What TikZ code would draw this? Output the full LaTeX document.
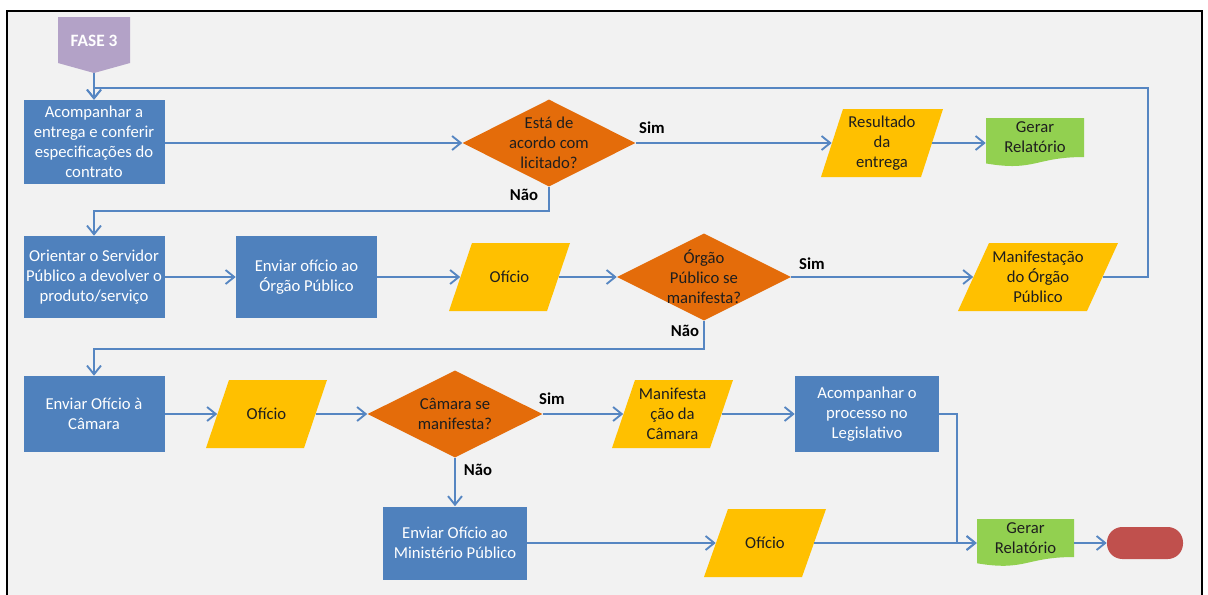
\documentclass[tikz,border=0pt]{standalone}
\usepackage{fontspec}
\setmainfont{Carlito}
\usetikzlibrary{arrows.meta,shapes.geometric,calc}
\definecolor{bgc}{HTML}{F2F2F2}
\definecolor{boxc}{HTML}{4F81BD}
\definecolor{linec}{HTML}{5686C2}
\definecolor{orc}{HTML}{E46C0A}
\definecolor{yelc}{HTML}{FFC000}
\definecolor{grnc}{HTML}{92D050}
\definecolor{redc}{HTML}{C0504D}
\definecolor{purc}{HTML}{B3A2C7}
\definecolor{txtc}{HTML}{1E1E1E}
\tikzset{
  wh/.style 2 args={minimum width={(#1)*0.75pt}, minimum height={(#2)*0.75pt}},
  txt/.style={inner sep=0pt, align=center, text=txtc, font=\fontsize{12.5}{15}\selectfont},
  bluebox/.style={txt, fill=boxc, text=white},
  dia/.style={shape=diamond, fill=orc, inner sep=0pt},
  lbl/.style={inner sep=0pt, text=black, font=\bfseries\fontsize{12.5}{15}\selectfont},
  arr/.style={draw=linec, line width=1.5pt, -{Straight Barb[length=6.5pt,width=10.5pt,line width=1.4pt]}},
  ln/.style={draw=linec, line width=1.5pt},
}
\newcommand\paranode[7]{%
  \fill[yelc] ({#2-#4/2},{#3+#5/2}) -- ({#2+#4/2-#6},{#3+#5/2}) -- ({#2+#4/2},{#3-#5/2}) -- ({#2-#4/2+#6},{#3-#5/2}) -- cycle;
  \node[txt, wh={#4-#6}{#5}] (#1) at (#2,#3) {#7};%
}
\newcommand\docnode[6]{%
  \fill[grnc] ({#2-#4/2},{#3-#5/2}) -- ({#2+#4/2},{#3-#5/2}) -- ({#2+#4/2},{#3+#5/2}) .. controls (#2,{#3+#5/2}) and (#2,{#3+#5/2+0.38*#5}) .. ({#2-#4/2},{#3+#5/2+0.165*#5}) -- cycle;
  \node[txt, wh={#4}{#5}] (#1) at (#2,#3) {#6};%
}
\newcommand\dianode[6]{%
  \node[dia, wh={#4}{#5}] (#1) at (#2,#3) {};
  \node[txt] (#1t) at (#2,#3) {#6};%
}
\begin{document}
\begin{tikzpicture}[x=0.75pt,y=-0.75pt]
\useasboundingbox (0,0) rectangle (1208,594);
\fill[white] (0,0) rectangle (1208,594);
\draw[black, line width=1.4pt, fill=bgc] (7,11) rectangle (1202,620);

% FASE 3
\fill[purc] (58,17) -- (130,17) -- (130,63) -- (94,73) -- (58,63) -- cycle;
\node[inner sep=0pt, text=white, font=\bfseries\fontsize{13}{15}\selectfont] (fase) at (94,41) {FASE 3};
\coordinate (fasetip) at (94,73);

% row 1
\node[bluebox, wh={141}{84}] (b1) at (94,142) {Acompanhar a\\entrega e conferir\\especificações do\\contrato};
\dianode{d1}{549}{143}{173}{87}{Está de\\acordo com\\licitado?}
\paranode{r1}{882}{143}{122}{68}{22}{Resultado\\da\\entrega}
\docnode{g1}{1035}{137.5}{98}{39}{Gerar\\Relatório}

% row 2
\node[bluebox, wh={141}{82}] (b2) at (94,277) {Orientar o Servidor\\Público a devolver o\\produto/serviço};
\node[bluebox, wh={141}{82}] (b3) at (306.5,277) {Enviar ofício ao\\Órgão Público};
\paranode{o1}{509.5}{277}{121}{68}{23}{Ofício}
\dianode{d2}{704}{277}{174}{87}{Órgão\\Público se\\manifesta?}
\paranode{m1}{1038}{277}{160}{68}{31}{Manifestação\\do Órgão\\Público}

% row 3
\node[bluebox, wh={141}{76}] (b4) at (94,414) {Enviar Ofício à\\Câmara};
\paranode{o2}{266.5}{414}{121}{68}{23}{Ofício}
\dianode{d3}{455}{414}{175}{87}{Câmara se\\manifesta?}
\paranode{m2}{672.5}{414}{121}{68}{23}{Manifesta\\ção da\\Câmara}
\node[bluebox, wh={144}{76}] (b5) at (867,414) {Acompanhar o\\processo no\\Legislativo};

% row 4
\node[bluebox, wh={144}{73}] (b6) at (455,543) {Enviar Ofício ao\\Ministério Público};
\paranode{o3}{765}{543}{122}{68}{24}{Ofício}
\docnode{g2}{1025.5}{538}{97}{38}{Gerar\\Relatório}
\node[fill=redc, rounded corners=11.5pt, inner sep=0pt, wh={76}{32}] (term) at (1145,543) {};

% connectors
\draw[arr] (fasetip) -- (b1.north);
\draw[arr] (m1.east) -- (1148,277) -- (1148,88) -- (94,88) -- (b1.north);
\draw[arr] (b1.east |- d1.west) -- (d1.west);
\draw[arr] (d1.south) -- (549,211) -- (94,211) -- (b2.north);
\draw[arr] (d1.east) -- (r1.west);
\draw[arr] (r1.east) -- (r1.east -| g1.west);

\draw[arr] (b2.east) -- (b3.west);
\draw[arr] (b3.east) -- (o1.west);
\draw[arr] (o1.east) -- (d2.west);
\draw[arr] (d2.east) -- (m1.west);
\draw[arr] (d2.south) -- (704,349) -- (94,349) -- (b4.north);

\draw[arr] (b4.east) -- (o2.west);
\draw[arr] (o2.east) -- (d3.west);
\draw[arr] (d3.east) -- (m2.west);
\draw[arr] (m2.east) -- (b5.west);
\draw[arr] (d3.south) -- (b6.north);
\draw[arr] (b6.east) -- (o3.west);
\draw[arr] (o3.east) -- (o3.east -| g2.west);
\draw[arr] (b5.east) -- (957,414) -- (957,543) -- (o3.east -| g2.west);
\draw[arr] (g2.east |- term.west) -- (term.west);

% labels
\node[lbl] (s1) at (652,128) {Sim};
\node[lbl] (n1) at (524,195) {Não};
\node[lbl] (s2) at (812,264) {Sim};
\node[lbl] (n2) at (685,331) {Não};
\node[lbl] (s3) at (552,399) {Sim};
\node[lbl] (n3) at (478,470) {Não};
\end{tikzpicture}
\end{document}
